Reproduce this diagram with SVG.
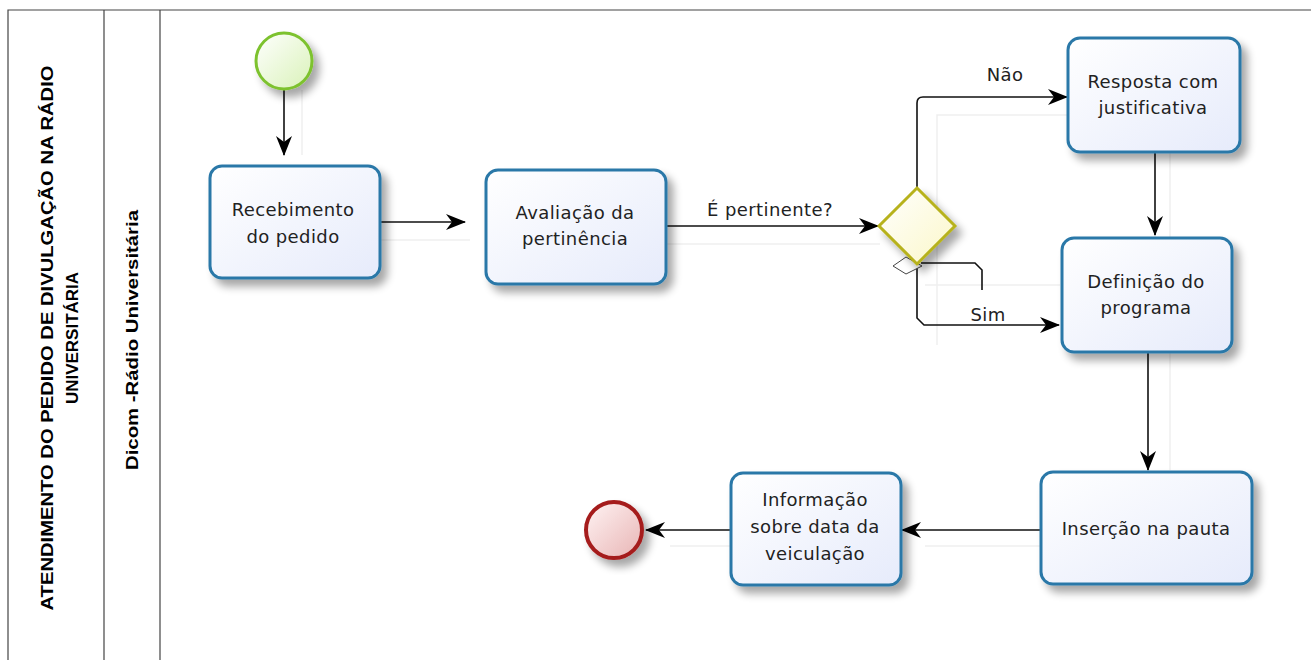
<svg xmlns="http://www.w3.org/2000/svg" width="1311" height="660" viewBox="0 0 1311 660">
<defs>
<linearGradient id="gTask" x1="0" y1="0" x2="1" y2="1"><stop offset="0" stop-color="#ffffff"/><stop offset="1" stop-color="#e6ebfb"/></linearGradient>
<linearGradient id="gStart" x1="0" y1="0" x2="1" y2="1"><stop offset="0" stop-color="#ffffff"/><stop offset="1" stop-color="#d9f2b8"/></linearGradient>
<linearGradient id="gEnd" x1="0" y1="0" x2="1" y2="1"><stop offset="0" stop-color="#fff4f4"/><stop offset="1" stop-color="#e8b4b4"/></linearGradient>
<linearGradient id="gGw" x1="0" y1="0" x2="1" y2="1"><stop offset="0" stop-color="#ffffff"/><stop offset="1" stop-color="#fbf7c8"/></linearGradient>
<filter id="sh" x="-20%" y="-20%" width="150%" height="150%"><feGaussianBlur in="SourceAlpha" stdDeviation="4"/><feOffset dx="6" dy="7" result="b"/><feComponentTransfer><feFuncA type="linear" slope="0.35"/></feComponentTransfer><feMerge><feMergeNode/><feMergeNode in="SourceGraphic"/></feMerge></filter>
<marker id="arr" viewBox="0 0 20 16" refX="19" refY="8" markerWidth="20" markerHeight="16" markerUnits="userSpaceOnUse" orient="auto"><path d="M0,0 L20,8 L0,16 L6,8 Z" fill="#000"/></marker>
<style>
.task{fill:url(#gTask);stroke:#2a78a8;stroke-width:3}
.lbl{font-family:"DejaVu Sans","Open Sans",sans-serif;font-size:18px;letter-spacing:0.4px;fill:#222;text-anchor:middle}
.conn{fill:none;stroke:#111;stroke-width:1.6}
.ghost{fill:none;stroke:#efefef;stroke-width:1.5}
.lane{fill:none;stroke:#444;stroke-width:1.2}
.hdr{font-family:"Liberation Sans",Arial,sans-serif;font-weight:bold;font-size:17px;fill:#000;text-anchor:middle}
</style>
</defs>
<rect width="1311" height="660" fill="#fff"/>
<g id="pool">
<path class="lane" d="M8,660 V10 H1311"/>
<line class="lane" x1="104" y1="10" x2="104" y2="660"/>
<line class="lane" x1="160" y1="10" x2="160" y2="660"/>
<text class="hdr" transform="translate(53,338) rotate(-90)" textLength="545" lengthAdjust="spacingAndGlyphs">ATENDIMENTO DO PEDIDO DE DIVULGAÇÃO NA RÁDIO</text>
<text class="hdr" transform="translate(78,338) rotate(-90)" textLength="132" lengthAdjust="spacingAndGlyphs">UNIVERSITÁRIA</text>
<text class="hdr" transform="translate(138,340) rotate(-90)" textLength="260" lengthAdjust="spacingAndGlyphs">Dicom -Rádio Universitária</text>
</g>
<g id="ghosts">
<path class="ghost" d="M302,90 V155"/>
<path class="ghost" d="M380,240 H470"/>
<path class="ghost" d="M666,244 H880"/>
<path class="ghost" d="M937,345 V115 H1170 V240"/>
<path class="ghost" d="M925,285 H1060"/>
<path class="ghost" d="M1170,352 V470"/>
<path class="ghost" d="M1041,546 H925"/>
<path class="ghost" d="M731,546 H670"/>
</g>
<g id="connectors">
<path class="conn" d="M284,90 V155" marker-end="url(#arr)"/>
<path class="conn" d="M380,222 H465" marker-end="url(#arr)"/>
<path class="conn" d="M666,226 H878" marker-end="url(#arr)"/>
<text class="lbl" x="770" y="216">É pertinente?</text>
<path class="conn" d="M917,188 V103 Q917,97 923,97 H1067" marker-end="url(#arr)"/>
<text class="lbl" x="1005" y="81">Não</text>
<path class="conn" d="M917,264 V318 L924,325 H1059" marker-end="url(#arr)"/>
<text class="lbl" x="988" y="321">Sim</text>
<path class="conn" d="M921,263 H975 L982,270 V290" stroke-width="1.2"/>
<path d="M893,266 L906,257 L922,266 L906,274 Z" fill="#fff" stroke="#444" stroke-width="1"/>
<path class="conn" d="M1155,152 V235" marker-end="url(#arr)"/>
<path class="conn" d="M1148,352 V470" marker-end="url(#arr)"/>
<path class="conn" d="M1041,530 H902" marker-end="url(#arr)"/>
<path class="conn" d="M731,530 H646" marker-end="url(#arr)"/>
</g>
<g id="start" filter="url(#sh)"><circle cx="284" cy="61" r="28" fill="url(#gStart)" stroke="#7dc22f" stroke-width="3"/></g>
<g id="task1"><rect class="task" x="210" y="166" width="170" height="112" rx="12" filter="url(#sh)"/><text class="lbl" x="293" y="216">Recebimento</text><text class="lbl" x="293" y="243">do pedido</text></g>
<g id="task2"><rect class="task" x="486" y="170" width="180" height="114" rx="12" filter="url(#sh)"/><text class="lbl" x="575" y="219">Avaliação da</text><text class="lbl" x="575" y="245">pertinência</text></g>
<g id="gateway"><path d="M917,188 L955,226 L917,264 L879,226 Z" fill="url(#gGw)" stroke="#b7b21e" stroke-width="3" filter="url(#sh)"/></g>
<g id="task3"><rect class="task" x="1068" y="38" width="172" height="114" rx="12" filter="url(#sh)"/><text class="lbl" x="1153" y="88">Resposta com</text><text class="lbl" x="1153" y="114">justificativa</text></g>
<g id="task4"><rect class="task" x="1062" y="238" width="170" height="114" rx="12" filter="url(#sh)"/><text class="lbl" x="1146" y="288">Definição do</text><text class="lbl" x="1146" y="314">programa</text></g>
<g id="task5"><rect class="task" x="1041" y="472" width="211" height="112" rx="12" filter="url(#sh)"/><text class="lbl" x="1146" y="535">Inserção na pauta</text></g>
<g id="task6"><rect class="task" x="731" y="473" width="170" height="112" rx="12" filter="url(#sh)"/><text class="lbl" x="815" y="506">Informação</text><text class="lbl" x="815" y="533">sobre data da</text><text class="lbl" x="815" y="560">veiculação</text></g>
<g id="end" filter="url(#sh)"><circle cx="614" cy="530" r="28" fill="url(#gEnd)" stroke="#a51c1c" stroke-width="4"/></g>
</svg>
